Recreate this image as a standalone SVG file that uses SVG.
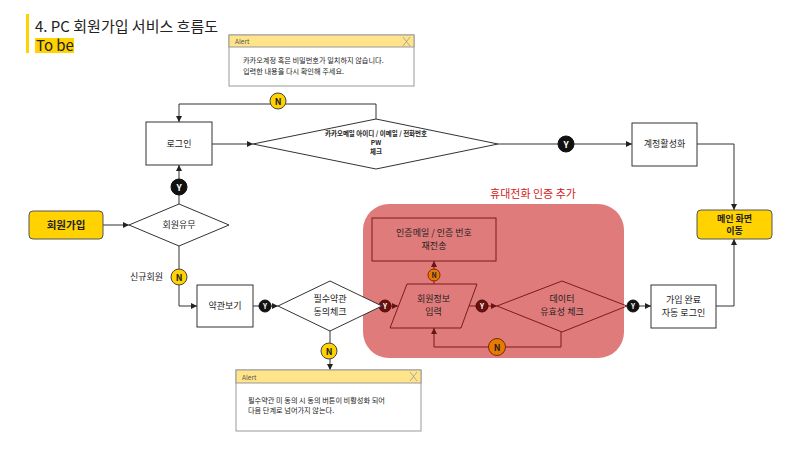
<svg xmlns="http://www.w3.org/2000/svg" width="800" height="450" viewBox="0 0 800 450">
<defs>
<marker id="ah" viewBox="0 0 10 10" refX="10" refY="5" markerWidth="6" markerHeight="6" orient="auto" markerUnits="userSpaceOnUse"><path d="M0,0 L10,5 L0,10 z" fill="#222"/></marker>
<marker id="ahr" viewBox="0 0 10 10" refX="10" refY="5" markerWidth="6" markerHeight="6" orient="auto" markerUnits="userSpaceOnUse"><path d="M0,0 L10,5 L0,10 z" fill="#6b1414"/></marker>
</defs>
<style>
text{font-family:"Noto Sans CJK KR","Noto Sans",sans-serif;fill:#222}
.box{fill:#fff;stroke:#333;stroke-width:1}
.rbox{fill:none;stroke:#7a1c1c;stroke-width:1}
.gold{fill:#ffd200;stroke:#555;stroke-width:1}
.lbl{font-size:9px;text-anchor:middle}
.ln{fill:none;stroke:#333;stroke-width:1}
.rln{fill:none;stroke:#7a1c1c;stroke-width:1}
.cy{fill:#ffd200;stroke:#444;stroke-width:1}
.cb{fill:#111;stroke:#111}
.cr{fill:#6b0f0f;stroke:#4a0a0a}
.co{fill:#e87a00;stroke:#7a2a00}
.ct{font-size:9px;font-weight:bold;text-anchor:middle}
.alert{fill:#fff;stroke:#999;stroke-width:1}
.ahd{fill:#ffe48a;stroke:#999;stroke-width:1}
.at{font-size:7.2px}
.dt{font-size:6.5px;font-weight:bold;text-anchor:middle}
</style>
<rect width="800" height="450" fill="#fff"/>
<g id="title">
<rect x="26" y="14" width="3" height="39" fill="#ffd200"/>
<text x="35" y="32" style="font-size:15px">4. PC 회원가입 서비스 흐름도</text>
<rect x="35" y="38" width="39" height="15" fill="#ffd200"/>
<text x="36" y="51" style="font-size:15px">To be</text>
</g>
<g id="region-phone">
<rect x="363" y="204" width="261" height="154" rx="26" fill="#e07b7b"/>
<text x="533" y="198" style="font-size:11px;fill:#d42020;text-anchor:middle">휴대전화 인증 추가</text>
</g>
<g id="connectors">
<path class="ln" d="M103,225 H129" marker-end="url(#ah)"/>
<path class="ln" d="M179,204 V165" marker-end="url(#ah)"/>
<path class="ln" d="M212,144 H253" marker-end="url(#ah)"/>
<path class="ln" d="M376,119 V104 H179 V122" marker-end="url(#ah)"/>
<path class="ln" d="M498,144 H632" marker-end="url(#ah)"/>
<path class="ln" d="M697,144 H734 V210" marker-end="url(#ah)"/>
<path class="ln" d="M179,246 V306 H197" marker-end="url(#ah)"/>
<path class="ln" d="M253,306 H278" marker-end="url(#ah)"/>
<path class="ln" d="M330,331 V370" marker-end="url(#ah)"/>
<path class="rln" d="M385,306 H398" marker-end="url(#ahr)"/>
<path class="rln" d="M469,306 H497" marker-end="url(#ahr)"/>
<path class="rln" d="M434,284 V261" marker-end="url(#ahr)"/>
<path class="rln" d="M561,332 V347 H434 V328" marker-end="url(#ahr)"/>
<path class="ln" d="M627,306 H651" marker-end="url(#ah)"/>
<path class="ln" d="M716,306 H734 V239" marker-end="url(#ah)"/>
<circle class="cy" cx="278" cy="101" r="8"/><text class="ct" x="278" y="104.5">N</text>
<circle class="cb" cx="566" cy="144" r="8"/><text class="ct" x="566" y="147.5" style="fill:#fff">Y</text>
<circle class="cb" cx="179" cy="187" r="8"/><text class="ct" x="179" y="190.5" style="fill:#fff">Y</text>
<circle class="cy" cx="179" cy="277" r="8"/><text class="ct" x="179" y="280.5">N</text>
<text x="163" y="280" style="font-size:9px;text-anchor:end">신규회원</text>
<circle class="cb" cx="265" cy="306" r="6"/><text class="ct" x="265" y="309" style="fill:#fff;font-size:7px">Y</text>
<circle class="cy" cx="329" cy="351" r="8"/><text class="ct" x="329" y="354.5">N</text>
<circle class="cr" cx="385" cy="306" r="6"/><text class="ct" x="385" y="309" style="fill:#fff;font-size:7px">Y</text>
<circle class="cr" cx="482" cy="306" r="6"/><text class="ct" x="482" y="309" style="fill:#fff;font-size:7px">Y</text>
<circle class="co" cx="434" cy="275" r="6"/><text class="ct" x="434" y="278" style="font-size:7px">N</text>
<circle class="co" cx="497" cy="347" r="8.5"/><text class="ct" x="497" y="350.5">N</text>
<circle class="cb" cx="633" cy="306" r="6"/><text class="ct" x="633" y="309" style="fill:#fff;font-size:7px">Y</text>
</g>
<g id="alert-login">
<rect class="alert" x="229" y="35" width="185" height="51"/>
<rect class="ahd" x="229" y="35" width="185" height="12"/>
<text x="235" y="44" style="font-size:6.5px;fill:#555">Alert</text>
<path d="M403,37 L410,46 M410,37 L403,46" stroke="#999" stroke-width="0.8"/>
<text class="at" x="243" y="63">카카오계정 혹은 비밀번호가 일치하지 않습니다.</text>
<text class="at" x="243" y="73.5">입력한 내용을 다시 확인해 주세요.</text>
</g>
<g id="node-login">
<rect class="box" x="146" y="122" width="66" height="43"/>
<text class="lbl" x="179" y="147">로그인</text>
</g>
<g id="node-check">
<polygon class="box" points="253,144 376,119 498,144 376,169"/>
<text class="dt" x="376" y="135.5">카카오메일 아이디 / 이메일 / 전화번호</text>
<text class="dt" x="376" y="144.5">PW</text>
<text class="dt" x="376" y="153.5">체크</text>
</g>
<g id="node-activate">
<rect class="box" x="632" y="123" width="65" height="43"/>
<text class="lbl" x="664.5" y="147">계정활성화</text>
</g>
<g id="node-join">
<rect class="gold" x="29" y="211" width="74" height="28" rx="4"/>
<text x="66" y="229" style="font-size:10.5px;font-weight:bold;text-anchor:middle">회원가입</text>
</g>
<g id="node-member">
<polygon class="box" points="129,225 179,204 229,225 179,246"/>
<text class="lbl" x="179" y="228">회원유무</text>
</g>
<g id="node-terms">
<rect class="box" x="197" y="285" width="56" height="42"/>
<text class="lbl" x="225" y="309">약관보기</text>
</g>
<g id="node-agree">
<polygon class="box" points="278,306 330,281 382,306 330,331"/>
<text class="lbl" x="330" y="302">필수약관</text>
<text class="lbl" x="330" y="315">동의체크</text>
</g>
<g id="node-resend">
<rect class="rbox" x="372" y="218" width="124" height="43"/>
<text class="lbl" x="434" y="236">인증메일 / 인증 번호</text>
<text class="lbl" x="434" y="249">재전송</text>
</g>
<g id="node-input">
<polygon class="rbox" points="407,284 477,284 461,328 390,328"/>
<text class="lbl" x="433.5" y="302">회원정보</text>
<text class="lbl" x="433.5" y="315">입력</text>
</g>
<g id="node-validate">
<polygon class="rbox" points="497,306 562,281 627,306 562,332"/>
<text class="lbl" x="562" y="302">데이터</text>
<text class="lbl" x="562" y="315">유효성 체크</text>
</g>
<g id="node-main">
<rect class="gold" x="697" y="210" width="75" height="29" rx="4"/>
<text x="734.5" y="222" style="font-size:9px;font-weight:bold;text-anchor:middle">메인 화면</text>
<text x="734.5" y="234" style="font-size:9px;font-weight:bold;text-anchor:middle">이동</text>
</g>
<g id="node-done">
<rect class="box" x="651" y="285" width="65" height="43"/>
<text class="lbl" x="683.5" y="303">가입 완료</text>
<text class="lbl" x="683.5" y="316">자동 로그인</text>
</g>
<g id="alert-terms">
<rect class="alert" x="236" y="370" width="185" height="61"/>
<rect class="ahd" x="236" y="370" width="185" height="13"/>
<text x="242" y="379.5" style="font-size:6.5px;fill:#555">Alert</text>
<path d="M410,372 L417,381 M417,372 L410,381" stroke="#999" stroke-width="0.8"/>
<text class="at" x="248" y="402.5">필수약관 미 동의 시 동의 버튼이 비활성화 되어</text>
<text class="at" x="248" y="413">다음 단계로 넘어가지 않는다.</text>
</g>
</svg>
